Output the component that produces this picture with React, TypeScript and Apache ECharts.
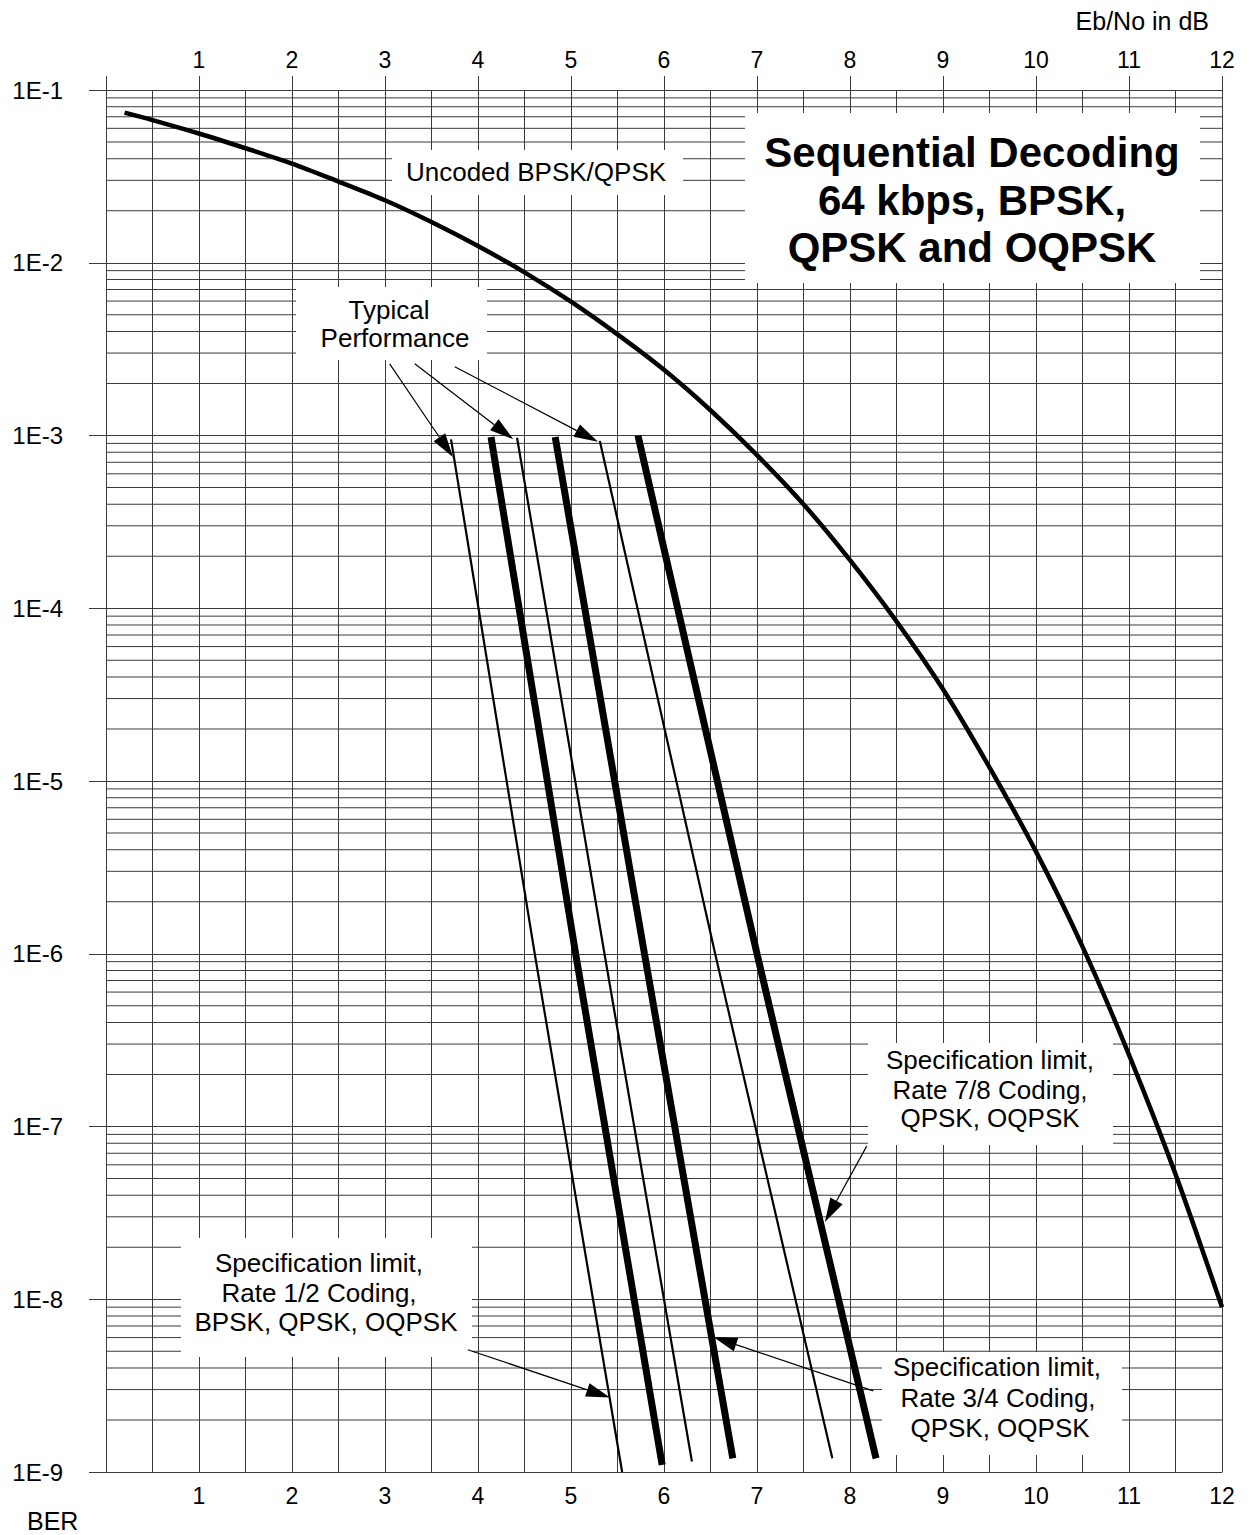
import React, { useEffect, useRef } from "react";
import * as echarts from "echarts";

// ---------- data ----------
const xTickLabels = [1, 2, 3, 4, 5, 6, 7, 8, 9, 10, 11, 12];
const minorMantissas = [2, 3, 4, 5, 6, 7, 8, 9];
const decadeExponents = [-9, -8, -7, -6, -5, -4, -3, -2];

const uncodedEbNo = [0.2, 0.5, 1, 1.5, 2, 2.5, 3, 3.5, 4, 4.5, 5, 5.5, 6, 6.5, 7, 7.5, 8, 8.5, 9, 9.5, 10, 10.5, 11, 11.5, 12];
const uncodedBer = [7.4e-2, 6.7e-2, 5.6e-2, 4.6e-2, 3.75e-2, 2.95e-2, 2.3e-2, 1.72e-2, 1.25e-2, 8.8e-3, 5.95e-3, 3.85e-3, 2.4e-3, 1.4e-3, 7.7e-4, 4.0e-4, 1.9e-4, 8.4e-5, 3.4e-5, 1.2e-5, 3.9e-6, 1.1e-6, 2.6e-7, 5.3e-8, 9e-9];

const thinAEbNo = [3.71, 4.61, 5.55];
const thinABer = [9.5e-4, 1e-6, 1e-9];
const thickAEbNo = [4.14, 5.05, 5.98];
const thickABer = [9.8e-4, 1e-6, 1.1e-9];
const thinBEbNo = [4.42, 5.36, 6.3];
const thinBBer = [9.7e-4, 1e-6, 1.15e-9];
const thickBEbNo = [4.83, 5.79, 6.74];
const thickBBer = [9.8e-4, 1e-6, 1.2e-9];
const thinCEbNo = [5.31, 6.55, 7.81];
const thinCBer = [9.3e-4, 1e-6, 1.2e-9];
const thickCEbNo = [5.72, 7.0, 8.28];
const thickCBer = [1e-3, 1e-6, 1.2e-9];

// annotation arrows (data space: [Eb/No, BER])
const arrowFrom = [
  [3.05, 2.6e-3],
  [3.32, 2.6e-3],
  [3.75, 2.5e-3],
  [3.89, 5.1e-9],
  [8.25, 2.95e-9],
  [8.18, 7.7e-8],
];
const arrowTo = [
  [3.73, 7.5e-4],
  [4.38, 9.5e-4],
  [5.29, 9.2e-4],
  [5.42, 2.7e-9],
  [6.53, 6.05e-9],
  [7.73, 2.8e-8],
];

const FONT = '"Liberation Sans", Arial, Helvetica, sans-serif';
const GRID_COLOR = "#3a3a3a";

const zip = (xs: number[], ys: number[]) => xs.map((x, i) => [x, ys[i]]);

const codedLines = [
  { name: "Typical, Rate 1/2", x: thinAEbNo, y: thinABer, width: 2.2 },
  { name: "Spec limit A", x: thickAEbNo, y: thickABer, width: 7 },
  { name: "Typical, Rate 3/4", x: thinBEbNo, y: thinBBer, width: 2.2 },
  { name: "Spec limit B", x: thickBEbNo, y: thickBBer, width: 7 },
  { name: "Typical, Rate 7/8", x: thinCEbNo, y: thinCBer, width: 2.2 },
  { name: "Spec limit C", x: thickCEbNo, y: thickCBer, width: 7 },
];

function textEl(text: string, x: number, y: number, size: number, align = "center", bold = false) {
  return {
    type: "text",
    x,
    y,
    z: 60,
    silent: true,
    style: {
      text,
      fill: "#000",
      fontSize: size,
      fontFamily: FONT,
      fontWeight: bold ? "bold" : "normal",
      align,
      verticalAlign: "middle",
      textAlign: align,
      textVerticalAlign: "middle",
    },
  };
}

function boxEl(x: number, y: number, w: number, h: number) {
  return {
    type: "rect",
    z: 50,
    silent: true,
    shape: { x, y, width: w, height: h },
    style: { fill: "#fff", stroke: null },
  };
}

export default function App() {
  const ref = useRef<HTMLDivElement>(null);

  useEffect(() => {
    const chart = echarts.init(ref.current!, undefined, { renderer: "svg" });

    const minorValues: number[][] = [];
    decadeExponents.forEach((e) => {
      minorMantissas.forEach((m) => minorValues.push([0, m * Math.pow(10, e)]));
    });

    const option: any = {
      animation: false,
      backgroundColor: "#fff",
      grid: { left: 106, right: 29, top: 90, bottom: 63, containLabel: false },
      xAxis: [
        {
          type: "value",
          position: "bottom",
          min: 0,
          max: 12,
          interval: 1,
          axisLine: { show: true, lineStyle: { color: GRID_COLOR, width: 1 } },
          axisTick: { show: false },
          minorTick: { show: false, splitNumber: 2 },
          axisLabel: {
            margin: 12,
            fontSize: 23,
            fontFamily: FONT,
            color: "#000",
            formatter: (v: number) => (xTickLabels.includes(v) ? String(v) : ""),
          },
          splitLine: { show: true, lineStyle: { color: GRID_COLOR, width: 1 } },
          minorSplitLine: { show: true, lineStyle: { color: GRID_COLOR, width: 1 } },
        },
        {
          type: "value",
          position: "top",
          min: 0,
          max: 12,
          interval: 1,
          axisLine: { show: true, lineStyle: { color: GRID_COLOR, width: 1 } },
          axisTick: { show: true, inside: false, length: 14, lineStyle: { color: GRID_COLOR, width: 1 } },
          axisLabel: {
            margin: 19,
            fontSize: 23,
            fontFamily: FONT,
            color: "#000",
            formatter: (v: number) => (xTickLabels.includes(v) ? String(v) : ""),
          },
          splitLine: { show: false },
        },
      ],
      yAxis: {
        type: "log",
        logBase: 10,
        min: 1e-9,
        max: 1e-1,
        splitNumber: 8,
        axisLine: { show: true, lineStyle: { color: GRID_COLOR, width: 1 } },
        axisTick: { show: true, inside: false, length: 17, lineStyle: { color: GRID_COLOR, width: 1 } },
        axisLabel: {
          margin: 43,
          fontSize: 24,
          fontFamily: FONT,
          color: "#000",
          formatter: (v: number) => "1E" + Math.round(Math.log10(v)),
        },
        splitLine: { show: true, lineStyle: { color: GRID_COLOR, width: 1 } },
      },
      series: [
        {
          type: "custom",
          name: "minor grid",
          z: 1,
          silent: true,
          data: minorValues,
          encode: { x: 0, y: 1 },
          clip: false,
          renderItem: (params: any, api: any) => {
            const p = api.coord([0, api.value(1)]);
            const cs = params.coordSys;
            return {
              type: "line",
              shape: { x1: cs.x, y1: p[1], x2: cs.x + cs.width, y2: p[1] },
              style: { stroke: GRID_COLOR, lineWidth: 1, fill: null },
            };
          },
        },
        {
          type: "line",
          name: "Uncoded BPSK/QPSK",
          z: 3,
          data: zip(uncodedEbNo, uncodedBer),
          smooth: 0.3,
          showSymbol: false,
          symbol: "none",
          lineStyle: { color: "#000", width: 4.5 },
          silent: true,
        },
        ...codedLines.map((l) => ({
          type: "line",
          name: l.name,
          z: 3,
          data: zip(l.x, l.y),
          showSymbol: false,
          symbol: "none",
          lineStyle: { color: "#000", width: l.width, cap: "butt" },
          silent: true,
        })),
      ],
    };

    chart.setOption(option);

    const toPx = (p: number[]) => chart.convertToPixel({ gridIndex: 0 }, p) as number[];

    const graphics: any[] = [];

    // white label boxes
    graphics.push(boxEl(745, 113, 455, 170));
    graphics.push(boxEl(392, 150, 291, 45));
    graphics.push(boxEl(296, 287, 191, 73));
    graphics.push(boxEl(868, 1043, 245, 102));
    graphics.push(boxEl(882, 1352, 240, 103));
    graphics.push(boxEl(181, 1238, 291, 119));

    // title
    graphics.push(textEl("Sequential Decoding", 972, 152, 42, "center", true));
    graphics.push(textEl("64 kbps, BPSK,", 972, 200, 42, "center", true));
    graphics.push(textEl("QPSK and OQPSK", 972, 247, 42, "center", true));

    // annotations
    graphics.push(textEl("Uncoded BPSK/QPSK", 536, 172, 26));
    graphics.push(textEl("Typical", 389, 310, 26));
    graphics.push(textEl("Performance", 395, 338, 26));

    graphics.push(textEl("Specification limit,", 990, 1060, 26));
    graphics.push(textEl("Rate 7/8 Coding,", 990, 1090, 26));
    graphics.push(textEl("QPSK, OQPSK", 990, 1118, 26));

    graphics.push(textEl("Specification limit,", 997, 1367, 26));
    graphics.push(textEl("Rate 3/4 Coding,", 998, 1398, 26));
    graphics.push(textEl("QPSK, OQPSK", 1000, 1428, 26));

    graphics.push(textEl("Specification limit,", 319, 1263, 26));
    graphics.push(textEl("Rate 1/2 Coding,", 319, 1293, 26));
    graphics.push(textEl("BPSK, QPSK, OQPSK", 326, 1322, 26));

    // axis names
    graphics.push(textEl("Eb/No in dB", 1209, 21, 25, "right"));
    graphics.push(textEl("BER", 27, 1521, 25, "left"));

    // arrows
    const L = 24;
    const W = 7;
    arrowFrom.forEach((f, i) => {
      const a = toPx(f);
      const b = toPx(arrowTo[i]);
      const dx = b[0] - a[0];
      const dy = b[1] - a[1];
      const len = Math.sqrt(dx * dx + dy * dy);
      const ux = dx / len;
      const uy = dy / len;
      const bx = b[0] - ux * L;
      const by = b[1] - uy * L;
      const nx = -uy;
      const ny = ux;
      graphics.push({
        type: "line",
        z: 70,
        silent: true,
        shape: { x1: a[0], y1: a[1], x2: bx, y2: by },
        style: { stroke: "#000", lineWidth: 1.2 },
      });
      graphics.push({
        type: "polygon",
        z: 70,
        silent: true,
        shape: {
          points: [
            [b[0], b[1]],
            [bx + nx * W, by + ny * W],
            [bx - nx * W, by - ny * W],
          ],
        },
        style: { fill: "#000" },
      });
    });

    chart.setOption({ graphic: graphics });

    return () => chart.dispose();
  }, []);

  return (
    <div
      ref={ref}
      style={{ position: "absolute", left: 0, top: 0, width: 1251, height: 1535, background: "#fff" }}
    />
  );
}
